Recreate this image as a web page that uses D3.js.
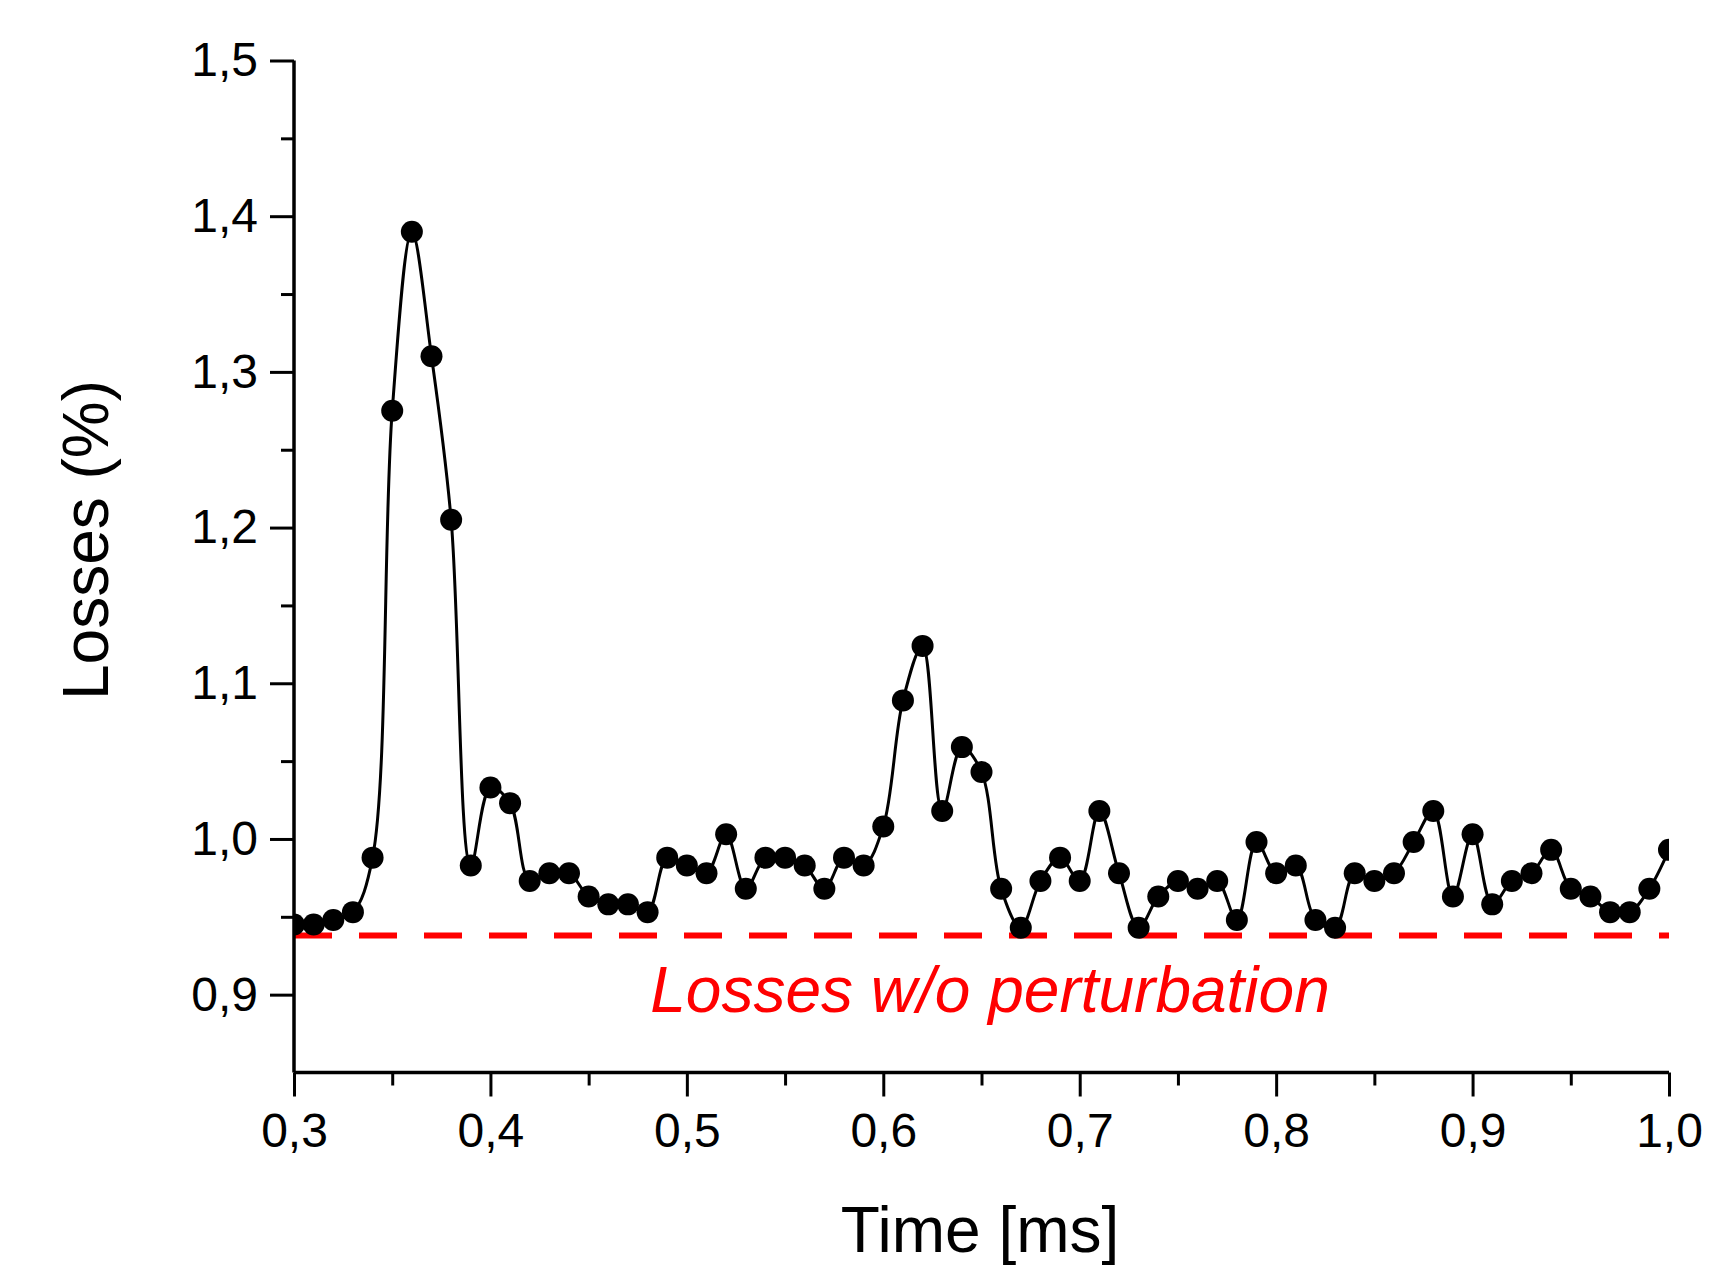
<!DOCTYPE html>
<html>
<head>
<meta charset="utf-8">
<script src="https://cdn.jsdelivr.net/npm/d3@7"></script>
<style>
  body { margin: 0; background: #fff; }
  text { font-family: "Liberation Sans", Arial, sans-serif; }
</style>
</head>
<body>
<svg id="chart" width="1716" height="1269"></svg>
<script>
// time (ms) and losses (%)
const times = d3.range(71).map(i => +(0.30 + i * 0.01).toFixed(2));
const losses = [
  0.945, 0.945, 0.948, 0.953, 0.988, 1.275, 1.390, 1.310, 1.205, 0.983,
  1.033, 1.023, 0.973, 0.978, 0.978, 0.963, 0.958, 0.958, 0.953, 0.988,
  0.983, 0.978, 1.003, 0.968, 0.988, 0.988, 0.983, 0.968, 0.988, 0.983,
  1.008, 1.089, 1.124, 1.018, 1.059, 1.043, 0.968, 0.943, 0.973, 0.988,
  0.973, 1.018, 0.978, 0.943, 0.963, 0.973, 0.968, 0.973, 0.948, 0.998,
  0.978, 0.983, 0.948, 0.943, 0.978, 0.973, 0.978, 0.998, 1.018, 0.963,
  1.003, 0.958, 0.973, 0.978, 0.993, 0.968, 0.963, 0.953, 0.953, 0.968,
  0.993
];
const baseline = 0.938;
const xTicks = [0.3, 0.4, 0.5, 0.6, 0.7, 0.8, 0.9, 1.0];
const yTicks = [0.9, 1.0, 1.1, 1.2, 1.3, 1.4, 1.5];
const fmt = d => d3.format(".1f")(d).replace(".", ",");

const svg = d3.select("#chart");
const x = d3.scaleLinear().domain([0.3, 1.0]).range([294, 1669]);
const y = d3.scaleLinear().domain([0.85, 1.5]).range([1072.5, 60.5]);

svg.append("clipPath").attr("id", "plot")
  .append("rect").attr("x", x(0.3)).attr("y", 0)
  .attr("width", x(1.0) - x(0.3)).attr("height", y(0.85));

const g = svg.append("g").attr("clip-path", "url(#plot)");

// red reference line
g.append("line")
  .attr("x1", x(0.3)).attr("x2", x(1.0))
  .attr("y1", y(baseline)).attr("y2", y(baseline))
  .attr("stroke", "#ff0000").attr("stroke-width", 6)
  .attr("stroke-dasharray", "38,27");

const pts = times.map((t, i) => [t, losses[i]]);
g.append("path").datum(pts)
  .attr("fill", "none").attr("stroke", "#000").attr("stroke-width", 3)
  .attr("d", d3.line().x(d => x(d[0])).y(d => y(d[1])).curve(d3.curveCatmullRom.alpha(0.5)));

g.selectAll("circle").data(pts).enter().append("circle")
  .attr("cx", d => x(d[0])).attr("cy", d => y(d[1])).attr("r", 11).attr("fill", "#000");

// axes
const xAxis = svg.append("g").attr("transform", `translate(0,${y(0.85)})`)
  .call(d3.axisBottom(x).tickValues(xTicks).tickFormat(fmt).tickSize(24).tickPadding(16));
svg.append("g").attr("transform", `translate(0,${y(0.85)})`)
  .call(d3.axisBottom(x).tickValues(d3.range(0.35, 1.0, 0.1)).tickFormat("").tickSize(13))
  .select(".domain").remove();
const yAxis = svg.append("g").attr("transform", `translate(${x(0.3)},0)`)
  .call(d3.axisLeft(y).tickValues(yTicks).tickFormat(fmt).tickSize(24).tickPadding(12));
svg.append("g").attr("transform", `translate(${x(0.3)},0)`)
  .call(d3.axisLeft(y).tickValues(d3.range(0.95, 1.5, 0.1)).tickFormat("").tickSize(13))
  .select(".domain").remove();
svg.selectAll(".domain").attr("stroke-width", 3.5).attr("d", function() {
  return d3.select(this).attr("d");
});
xAxis.select(".domain").attr("d", `M${x(0.3)},0H${x(1.0)}`);
yAxis.select(".domain").attr("d", `M0,${y(1.5)}V${y(0.85)}`);
svg.selectAll(".tick line").attr("stroke-width", 3);
svg.selectAll(".tick text").attr("font-size", 48).attr("fill", "#000")
  .attr("font-family", "Liberation Sans, Arial, sans-serif");

// titles
svg.append("text").attr("x", 980).attr("y", 1252).attr("text-anchor", "middle")
  .attr("font-size", 64).text("Time [ms]");
svg.append("text").attr("transform", `translate(108,540) rotate(-90)`)
  .attr("text-anchor", "middle").attr("font-size", 64).text("Losses (%)");
svg.append("text").attr("x", 990).attr("y", 1012).attr("text-anchor", "middle")
  .attr("font-size", 64).attr("font-style", "italic").attr("fill", "#ff0000")
  .text("Losses w/o perturbation");
</script>
</body>
</html>
